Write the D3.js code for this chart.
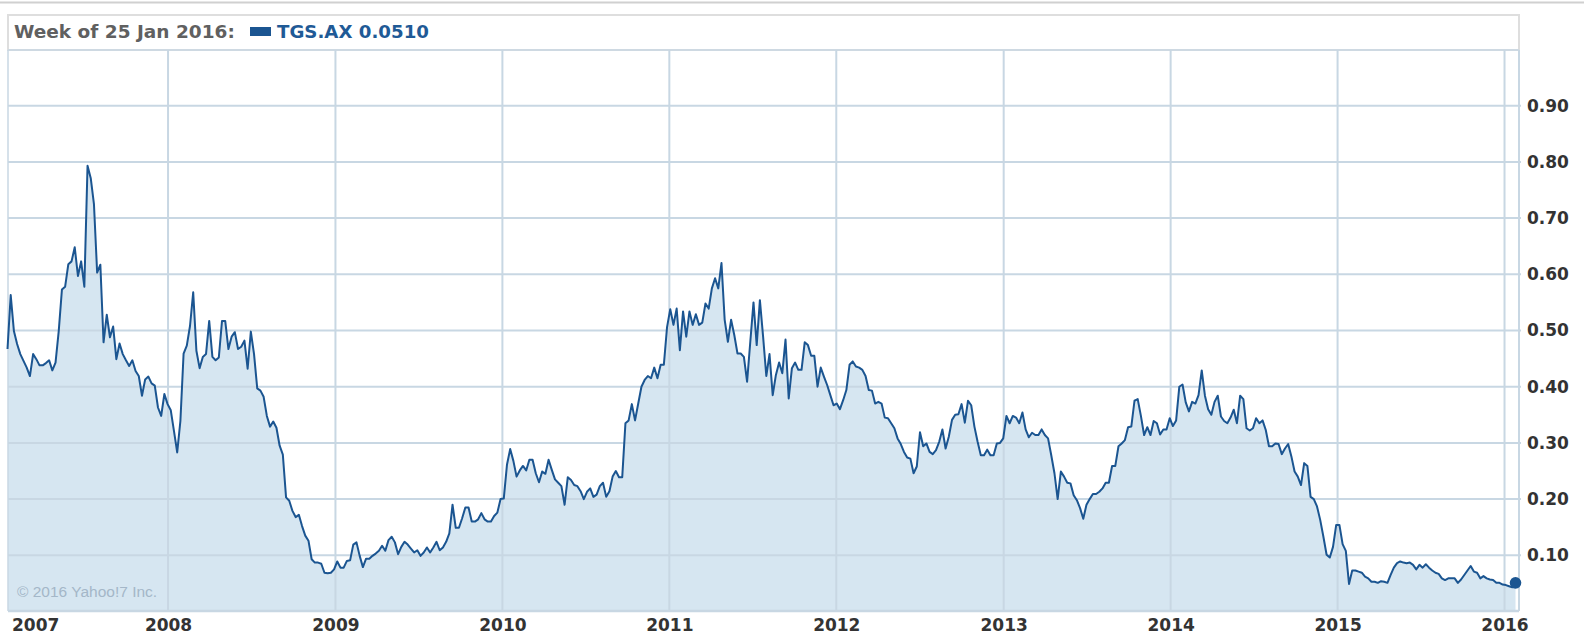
<!DOCTYPE html>
<html><head><meta charset="utf-8">
<script src="https://cdn.jsdelivr.net/npm/d3@7"></script>
<style>
html,body{margin:0;padding:0;background:#fff;}
svg{display:block;}
</style></head><body>
<svg id="chart" width="1584" height="638"></svg>
<script>
// ---- data (weekly closes, TGS.AX) ----
const seriesStart = "2007-01-15"; // first weekly observation (Monday)
const p2007 = [.467,.563,.499,.476,.458,.446,.434,.419,.458,.449,.438,.438,.442,.447,.429,.443,.499,.573,.578,.618,.623,.648,.597,.623,.578,.793,.771,.725,.603,.617,.479,.528,.488,.507,.449,.477,.458,.447,.437,.447,.428,.419,.384,.413,.418,.406,.402,.363,.348,.387,.369];
const p2008 = [.358,.321,.283,.339,.459,.473,.508,.568,.464,.433,.453,.458,.517,.453,.447,.452,.517,.517,.467,.489,.497,.467,.471,.482,.432,.498,.458,.397,.393,.382,.348,.329,.338,.327,.295,.279,.203,.197,.179,.168,.172,.152,.135,.126,.093,.087,.087,.085,.069,.068,.069,.075];
const p2009 = [.089,.078,.078,.090,.091,.119,.123,.099,.079,.094,.094,.099,.103,.108,.117,.108,.127,.133,.123,.102,.115,.124,.119,.112,.105,.109,.099,.105,.114,.105,.114,.124,.109,.114,.124,.139,.190,.149,.149,.166,.185,.185,.160,.160,.164,.175,.164,.160,.160,.170,.176,.200];
const p2010 = [.201,.261,.289,.268,.240,.251,.259,.251,.270,.270,.246,.230,.249,.245,.270,.252,.235,.229,.223,.190,.239,.234,.225,.223,.214,.200,.213,.219,.204,.208,.223,.229,.204,.214,.240,.250,.239,.239,.335,.340,.369,.340,.370,.400,.412,.419,.415,.434,.415,.439,.439,.506];
const p2011 = [.538,.510,.539,.465,.534,.489,.534,.510,.529,.510,.514,.548,.539,.575,.593,.575,.620,.519,.480,.519,.492,.459,.459,.453,.409,.480,.550,.474,.554,.489,.419,.458,.385,.421,.443,.424,.484,.379,.433,.443,.430,.430,.479,.474,.455,.455,.400,.434,.418,.403,.385,.367];
const p2012 = [.370,.360,.376,.394,.439,.445,.436,.434,.430,.419,.394,.393,.370,.373,.370,.345,.344,.335,.326,.308,.298,.284,.274,.272,.246,.258,.319,.294,.299,.284,.280,.287,.302,.324,.290,.311,.341,.350,.351,.369,.336,.375,.367,.329,.302,.278,.278,.288,.278,.278,.299,.300,.308];
const p2013 = [.348,.335,.348,.345,.335,.354,.324,.310,.318,.314,.314,.324,.314,.308,.278,.246,.200,.249,.240,.229,.228,.207,.198,.184,.165,.190,.200,.209,.209,.213,.219,.229,.229,.259,.259,.294,.299,.305,.328,.329,.375,.378,.348,.314,.328,.314,.339,.335,.315,.324,.324,.344];
const p2014 = [.330,.340,.400,.404,.372,.356,.373,.370,.385,.429,.384,.360,.350,.373,.384,.347,.339,.335,.345,.359,.335,.384,.378,.326,.322,.326,.344,.335,.340,.323,.294,.294,.299,.298,.280,.290,.298,.276,.249,.240,.225,.264,.259,.204,.200,.187,.163,.133,.101,.096,.115,.154];
const p2015 = [.154,.120,.108,.049,.073,.073,.071,.069,.062,.059,.053,.053,.051,.054,.053,.051,.065,.078,.086,.089,.087,.086,.087,.083,.075,.083,.078,.084,.078,.073,.069,.067,.059,.056,.059,.059,.059,.051,.057,.065,.073,.081,.071,.069,.059,.063,.059,.057,.056,.051,.051,.048];
const p2016 = [.047,.045,.043,.051];

const yearLabels = ["2007","2008","2009","2010","2011","2012","2013","2014","2015","2016"];
const yTickValues = [0.1,0.2,0.3,0.4,0.5,0.6,0.7,0.8,0.9];
const headerLabel = "Week of 25 Jan 2016:";
const seriesName = "TGS.AX";
const lastValueText = "0.0510";
const copyright = "\u00A9 2016 Yahoo!7 Inc.";

// ---- build series ----
const allValues = [].concat(p2007,p2008,p2009,p2010,p2011,p2012,p2013,p2014,p2015,p2016);
const parse = d3.timeParse("%Y-%m-%d");
const t0 = parse(seriesStart);
const data = allValues.map((v,i)=>({date: d3.timeWeek.offset(t0, i), value: v}));

// ---- layout ----
const W = 1584, H = 638;
const plot = {left: 8, right: 1519, top: 50, bottom: 611};
const gridColor = "#c8d7e3";

const svg = d3.select("#chart");

const x = d3.scaleTime()
  .domain([data[0].date, data[data.length-1].date])
  .range([7.5, 1515.5]);
const y = d3.scaleLinear().domain([0, 1]).range([611.5, 49.5]);

// top rule
svg.append("line").attr("x1",0).attr("x2",W).attr("y1",2.5).attr("y2",2.5)
  .attr("stroke","#d0d0d0").attr("stroke-width",2);

// header box
svg.append("rect").attr("x",plot.left).attr("y",15).attr("width",plot.right-plot.left).attr("height",plot.top-15)
  .attr("fill","#fff").attr("stroke","#dedede").attr("stroke-width",2);

// area + line
svg.append("clipPath").attr("id","pc").append("rect")
  .attr("x",plot.left).attr("y",plot.top).attr("width",plot.right-plot.left).attr("height",plot.bottom-plot.top);

const area = d3.area().x(d=>x(d.date)).y0(y(0)).y1(d=>y(d.value));
svg.append("path").datum(data).attr("d",area).attr("fill","#d6e6f1").attr("clip-path","url(#pc)");

// grid
const yearDates = yearLabels.map(s=>new Date(+s,0,1));
const gGrid = svg.append("g");
gGrid.selectAll("line.h").data(yTickValues).join("line")
  .attr("x1",plot.left).attr("x2",plot.right+2)
  .attr("y1",d=>y(d)).attr("y2",d=>y(d))
  .attr("stroke",gridColor).attr("stroke-width",2);
gGrid.selectAll("line.v").data(yearDates.filter(d=>x(d)>plot.left+2)).join("line")
  .attr("x1",d=>x(d)).attr("x2",d=>x(d))
  .attr("y1",plot.top).attr("y2",plot.bottom)
  .attr("stroke",gridColor).attr("stroke-width",2);
// frame
svg.append("line").attr("x1",plot.left).attr("x2",plot.right).attr("y1",plot.top).attr("y2",plot.top)
  .attr("stroke",gridColor).attr("stroke-width",1.5);
svg.append("line").attr("x1",plot.left).attr("x2",plot.left).attr("y1",plot.top).attr("y2",plot.bottom)
  .attr("stroke",gridColor).attr("stroke-width",1.5);
svg.append("line").attr("x1",plot.right).attr("x2",plot.right).attr("y1",plot.top).attr("y2",plot.bottom)
  .attr("stroke",gridColor).attr("stroke-width",2);
svg.append("line").attr("x1",plot.left).attr("x2",plot.right).attr("y1",plot.bottom).attr("y2",plot.bottom)
  .attr("stroke",gridColor).attr("stroke-width",2.5);

// copyright
svg.append("text").attr("x",17).attr("y",597).text(copyright)
  .attr("font-family","Liberation Sans, Arial, sans-serif").attr("font-size",15.5).attr("fill","#a4b7c8");

// line
const line = d3.line().x(d=>x(d.date)).y(d=>y(d.value));
svg.append("path").datum(data).attr("d",line).attr("fill","none")
  .attr("stroke","#1b5591").attr("stroke-width",2).attr("stroke-linejoin","round");

// end dot
const last = data[data.length-1];
svg.append("circle").attr("cx",x(last.date)).attr("cy",y(last.value)).attr("r",5.8).attr("fill","#1b5591");

// y axis (right)
const yAxis = d3.axisRight(y).tickValues(yTickValues).tickFormat(d3.format(".2f")).tickSize(0).tickPadding(0);
const gy = svg.append("g").attr("transform",`translate(1527,0)`).call(yAxis);
gy.select(".domain").remove();
gy.selectAll("text").attr("font-family","DejaVu Sans, Verdana, sans-serif").attr("font-weight","bold")
  .attr("font-size",17).attr("fill","#333");

// x axis labels
const xAxis = d3.axisBottom(x).tickValues(yearDates).tickFormat(d3.timeFormat("%Y")).tickSize(0).tickPadding(0);
const gx = svg.append("g").attr("transform",`translate(0,619)`).call(xAxis);
gx.select(".domain").remove();
gx.selectAll("text").attr("font-family","DejaVu Sans, Verdana, sans-serif").attr("font-weight","bold")
  .attr("font-size",17).attr("fill","#333")
  .each(function(d){
    if (x(d) - 24 < plot.left) {
      d3.select(this.parentNode).attr("transform","translate(12,0)");
      d3.select(this).attr("text-anchor","start");
    }
  });

// header text
svg.append("text").attr("x",14).attr("y",38)
  .attr("font-family","DejaVu Sans, Verdana, sans-serif").attr("font-weight","bold").attr("font-size",18.5)
  .attr("fill","#606060").text(headerLabel);
svg.append("rect").attr("x",250).attr("y",27).attr("width",21).attr("height",9).attr("fill","#1b5591");
svg.append("text").attr("x",277).attr("y",38)
  .attr("font-family","DejaVu Sans, Verdana, sans-serif").attr("font-weight","bold").attr("font-size",18.2)
  .attr("fill","#1f5a96").text(seriesName + " " + lastValueText);
</script>
</body></html>
